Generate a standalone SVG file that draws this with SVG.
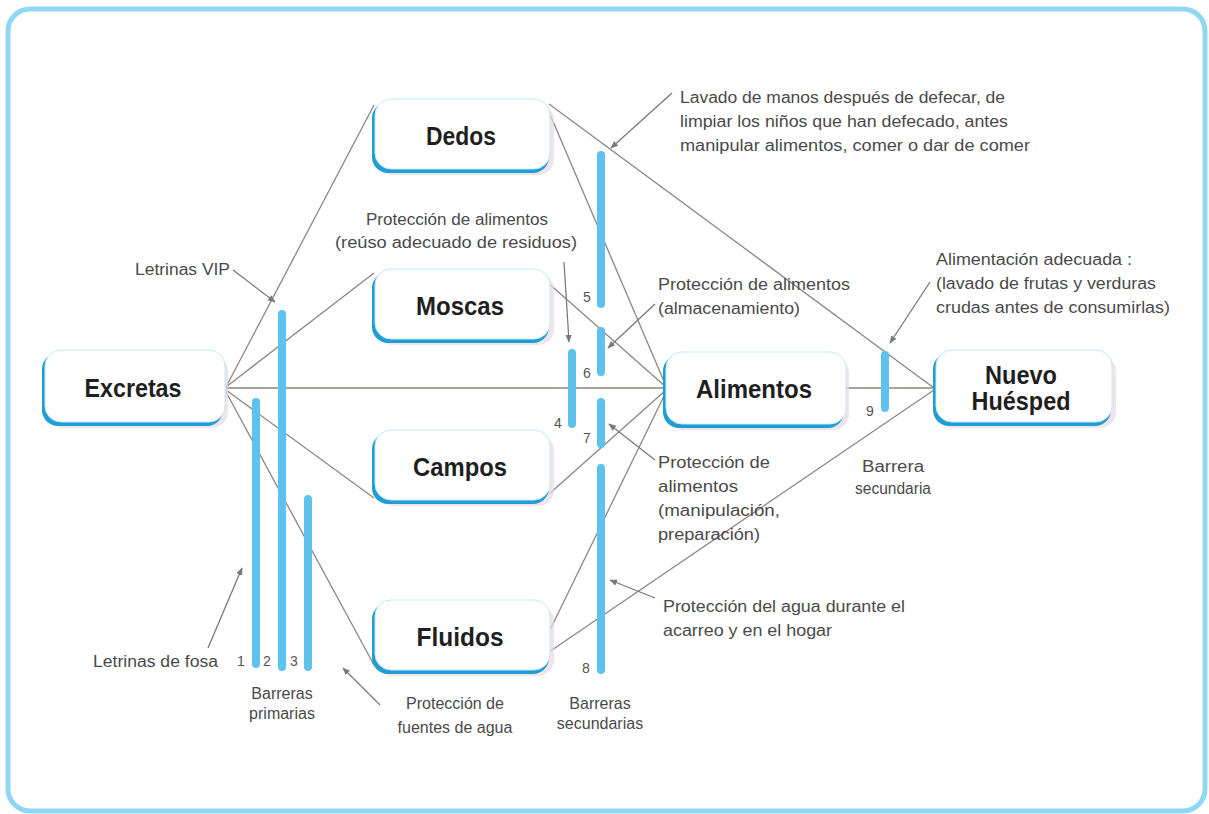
<svg xmlns="http://www.w3.org/2000/svg" width="1209" height="814" viewBox="0 0 1209 814">
<defs>
<style>
.frame{fill:#ffffff;stroke:#8fd7f5;stroke-width:5}
.shadow{fill:#ead9de;opacity:0.7}
.edge{fill:#1f9ed6}
.face{fill:#ffffff;stroke:#c4e8f7;stroke-width:1}
.nt{font-family:"Liberation Sans",Arial,sans-serif;font-weight:bold;font-size:25px;fill:#1f1f1f;text-anchor:middle}
.lab{font-family:"Liberation Sans",Arial,sans-serif;font-size:16px;fill:#4a4a4a}
.mid{text-anchor:middle}
.num{font-family:"Liberation Sans",Arial,sans-serif;font-size:14px;fill:#555}
.con{stroke:#8f8583;stroke-width:1.3;fill:none}
.ptr{stroke:#7d7878;stroke-width:1.3;fill:none;marker-end:url(#ah)}
.bar{stroke:#5ec2ee;stroke-width:8;stroke-linecap:round}
</style>
<marker id="ah" viewBox="0 0 10 10" refX="9" refY="5" markerWidth="6" markerHeight="6" orient="auto">
<path d="M0,1 L10,5 L0,9 z" fill="#7d7878"/>
</marker>
</defs>
<rect class="frame" x="8" y="9" width="1197" height="802" rx="22"/>

<g id="connectors">
<line class="con" x1="226" y1="387" x2="374" y2="105"/>
<line class="con" x1="226" y1="387" x2="374" y2="273"/>
<line class="con" x1="226" y1="388" x2="665" y2="388"/>
<line class="con" x1="226" y1="390" x2="374" y2="498"/>
<line class="con" x1="226" y1="392" x2="374" y2="665"/>
<line class="con" x1="549" y1="112" x2="666" y2="386"/>
<line class="con" x1="549" y1="104" x2="934" y2="388"/>
<line class="con" x1="547" y1="282" x2="666" y2="387"/>
<line class="con" x1="549" y1="494" x2="666" y2="390"/>
<line class="con" x1="549" y1="632" x2="666" y2="392"/>
<line class="con" x1="549" y1="652" x2="934" y2="390"/>
<line class="con" x1="846" y1="388" x2="934" y2="388"/>
</g>

<g id="barriers">
<line class="bar" x1="256" y1="402" x2="256" y2="664"/>
<line class="bar" x1="282" y1="314" x2="282" y2="667"/>
<line class="bar" x1="308" y1="499" x2="308" y2="667"/>
<line class="bar" x1="572" y1="353" x2="572" y2="424"/>
<line class="bar" x1="601" y1="155" x2="601" y2="304"/>
<line class="bar" x1="601" y1="331" x2="601" y2="372"/>
<line class="bar" x1="601" y1="402" x2="601" y2="444"/>
<line class="bar" x1="601" y1="468" x2="601" y2="670"/>
<line class="bar" x1="885" y1="355" x2="885" y2="408"/>
<text class="num" x="237" y="666">1</text>
<text class="num" x="263" y="666">2</text>
<text class="num" x="290" y="666">3</text>
<text class="num" x="554" y="428">4</text>
<text class="num" x="583" y="302">5</text>
<text class="num" x="583" y="378">6</text>
<text class="num" x="583" y="443">7</text>
<text class="num" x="582" y="673">8</text>
<text class="num" x="866" y="416">9</text>
</g>

<g id="pointers">
<line class="ptr" x1="233" y1="270" x2="275" y2="302"/>
<line class="ptr" x1="208" y1="648" x2="242" y2="568"/>
<line class="ptr" x1="380" y1="705" x2="343" y2="668"/>
<line class="ptr" x1="564" y1="262" x2="569" y2="342"/>
<line class="ptr" x1="672" y1="93" x2="611" y2="148"/>
<line class="ptr" x1="655" y1="304" x2="608" y2="348"/>
<line class="ptr" x1="655" y1="460" x2="609" y2="424"/>
<line class="ptr" x1="655" y1="598" x2="610" y2="580"/>
<line class="ptr" x1="930" y1="282" x2="890" y2="343"/>
</g>

<g id="node-excretas">
<rect class="shadow" x="47" y="355" width="181" height="73" rx="16"/>
<rect class="edge" x="42" y="353" width="181" height="73" rx="16"/>
<rect class="face" x="45" y="350" width="180" height="72" rx="16"/>
<text class="nt" x="133" y="397" textLength="97" lengthAdjust="spacingAndGlyphs">Excretas</text>
</g>
<g id="node-dedos">
<rect class="shadow" x="377" y="104" width="177" height="71" rx="16"/>
<rect class="edge" x="372" y="102" width="177" height="71" rx="16"/>
<rect class="face" x="375" y="99" width="175" height="70" rx="16"/>
<text class="nt" x="461" y="145" textLength="70" lengthAdjust="spacingAndGlyphs">Dedos</text>
</g>
<g id="node-moscas">
<rect class="shadow" x="377" y="274" width="177" height="71" rx="16"/>
<rect class="edge" x="372" y="272" width="177" height="71" rx="16"/>
<rect class="face" x="375" y="269" width="175" height="70" rx="16"/>
<text class="nt" x="460" y="315" textLength="88" lengthAdjust="spacingAndGlyphs">Moscas</text>
</g>
<g id="node-campos">
<rect class="shadow" x="377" y="435" width="177" height="71" rx="16"/>
<rect class="edge" x="372" y="433" width="177" height="71" rx="16"/>
<rect class="face" x="375" y="430" width="175" height="70" rx="16"/>
<text class="nt" x="460" y="476" textLength="94" lengthAdjust="spacingAndGlyphs">Campos</text>
</g>
<g id="node-fluidos">
<rect class="shadow" x="377" y="605" width="177" height="71" rx="16"/>
<rect class="edge" x="372" y="603" width="177" height="71" rx="16"/>
<rect class="face" x="375" y="600" width="175" height="70" rx="16"/>
<text class="nt" x="460" y="646" textLength="87" lengthAdjust="spacingAndGlyphs">Fluidos</text>
</g>
<g id="node-alimentos">
<rect class="shadow" x="668" y="357" width="181" height="73" rx="16"/>
<rect class="edge" x="663" y="355" width="181" height="73" rx="16"/>
<rect class="face" x="666" y="352" width="180" height="72" rx="16"/>
<text class="nt" x="754" y="398" textLength="116" lengthAdjust="spacingAndGlyphs">Alimentos</text>
</g>
<g id="node-nuevo-huesped">
<rect class="shadow" x="938" y="355" width="178" height="73" rx="16"/>
<rect class="edge" x="933" y="353" width="178" height="73" rx="16"/>
<rect class="face" x="936" y="350" width="176" height="72" rx="16"/>
<text class="nt" x="1021" y="384" textLength="72" lengthAdjust="spacingAndGlyphs">Nuevo</text>
<text class="nt" x="1021" y="410" textLength="99" lengthAdjust="spacingAndGlyphs">Huésped</text>
</g>

<g id="labels">
<text class="lab" x="680" y="103" textLength="325" lengthAdjust="spacingAndGlyphs">Lavado de manos después de defecar, de</text>
<text class="lab" x="680" y="127" textLength="328" lengthAdjust="spacingAndGlyphs">limpiar los niños que han defecado, antes</text>
<text class="lab" x="680" y="151" textLength="350" lengthAdjust="spacingAndGlyphs">manipular alimentos, comer o dar de comer</text>
<text class="lab" x="366" y="225" textLength="182" lengthAdjust="spacingAndGlyphs">Protección de alimentos</text>
<text class="lab" x="335" y="248" textLength="242" lengthAdjust="spacingAndGlyphs">(reúso adecuado de residuos)</text>
<text class="lab" x="135" y="275" textLength="95" lengthAdjust="spacingAndGlyphs">Letrinas VIP</text>
<text class="lab" x="658" y="290" textLength="192" lengthAdjust="spacingAndGlyphs">Protección de alimentos</text>
<text class="lab" x="658" y="314" textLength="142" lengthAdjust="spacingAndGlyphs">(almacenamiento)</text>
<text class="lab" x="936" y="265" textLength="196" lengthAdjust="spacingAndGlyphs">Alimentación adecuada :</text>
<text class="lab" x="936" y="289" textLength="220" lengthAdjust="spacingAndGlyphs">(lavado de frutas y verduras</text>
<text class="lab" x="936" y="313" textLength="234" lengthAdjust="spacingAndGlyphs">crudas antes de consumirlas)</text>
<text class="lab" x="658" y="468" textLength="112" lengthAdjust="spacingAndGlyphs">Protección de</text>
<text class="lab" x="658" y="492" textLength="80" lengthAdjust="spacingAndGlyphs">alimentos</text>
<text class="lab" x="658" y="516" textLength="122" lengthAdjust="spacingAndGlyphs">(manipulación,</text>
<text class="lab" x="658" y="540" textLength="102" lengthAdjust="spacingAndGlyphs">preparación)</text>
<text class="lab mid" x="893" y="472" textLength="62" lengthAdjust="spacingAndGlyphs">Barrera</text>
<text class="lab mid" x="893" y="494" textLength="76" lengthAdjust="spacingAndGlyphs">secundaria</text>
<text class="lab" x="663" y="612" textLength="242" lengthAdjust="spacingAndGlyphs">Protección del agua durante el</text>
<text class="lab" x="663" y="636" textLength="169" lengthAdjust="spacingAndGlyphs">acarreo y en el hogar</text>
<text class="lab" x="93" y="667" textLength="125" lengthAdjust="spacingAndGlyphs">Letrinas de fosa</text>
<text class="lab mid" x="282" y="699">Barreras</text>
<text class="lab mid" x="282" y="719">primarias</text>
<text class="lab mid" x="455" y="709">Protección de</text>
<text class="lab mid" x="455" y="733">fuentes de agua</text>
<text class="lab mid" x="600" y="709">Barreras</text>
<text class="lab mid" x="600" y="729">secundarias</text>
</g>
</svg>
